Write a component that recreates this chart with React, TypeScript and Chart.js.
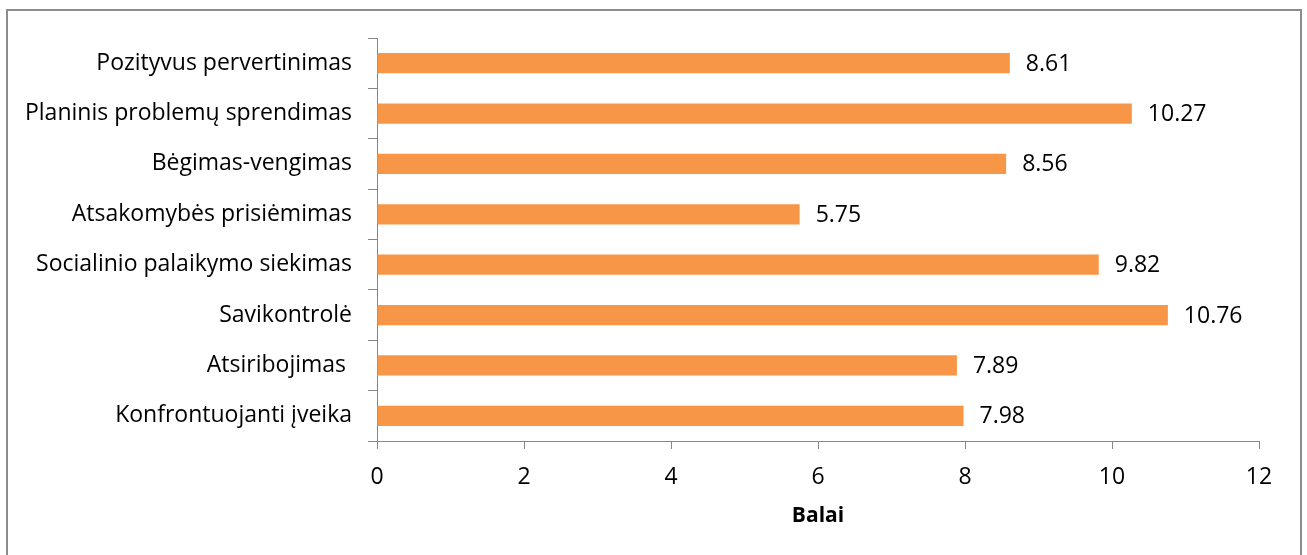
import React, { useEffect, useRef } from "react";
import { Chart, registerables, Plugin } from "chart.js";

Chart.register(...registerables);

const categories = [
  "Pozityvus pervertinimas",
  "Planinis problemų sprendimas",
  "Bėgimas-vengimas",
  "Atsakomybės prisiėmimas",
  "Socialinio palaikymo siekimas",
  "Savikontrolė",
  "Atsiribojimas ",
  "Konfrontuojanti įveika",
];
const scores = [8.61, 10.27, 8.56, 5.75, 9.82, 10.76, 7.89, 7.98];
const xTicks = [0, 2, 4, 6, 8, 10, 12];
const axisTitle = "Balai";

const FONT = "'Open Sans', sans-serif";
const FONT_SIZE = 23;
const AXIS_GREY = "#868686";
const BAR_ORANGE = "#F79646";

// Value labels just past the end of each bar
const valueLabels: Plugin<"bar"> = {
  id: "valueLabels",
  afterDatasetsDraw(chart) {
    const { ctx } = chart;
    const meta = chart.getDatasetMeta(0);
    ctx.save();
    ctx.font = `${FONT_SIZE}px ${FONT}`;
    ctx.fillStyle = "#000";
    ctx.textAlign = "left";
    ctx.textBaseline = "middle";
    meta.data.forEach((el: any, i: number) => {
      ctx.fillText(scores[i].toFixed(2), el.x + 16, el.y + 1);
    });
    ctx.restore();
  },
};

// Thin grey frame around the chart
const frame: Plugin<"bar"> = {
  id: "frame",
  beforeDraw(chart) {
    const { ctx } = chart;
    ctx.save();
    ctx.fillStyle = "#fff";
    ctx.fillRect(0, 0, chart.width, chart.height);
    ctx.strokeStyle = "#8c8c8c";
    ctx.lineWidth = 2;
    ctx.strokeRect(7, 10, 1294, 600);
    ctx.restore();
  },
};

export default function App() {
  const canvasRef = useRef<HTMLCanvasElement>(null);

  useEffect(() => {
    const canvas = canvasRef.current;
    if (!canvas) return;
    const chart = new Chart(canvas, {
      type: "bar",
      data: {
        labels: categories,
        datasets: [
          {
            data: scores,
            backgroundColor: BAR_ORANGE,
            barPercentage: 0.4,
            categoryPercentage: 1,
          },
        ],
      },
      options: {
        indexAxis: "y",
        responsive: false,
        animation: false,
        layout: { padding: { top: 38, right: 48, bottom: 0, left: 0 } },
        plugins: {
          legend: { display: false },
          tooltip: { enabled: false },
        },
        scales: {
          x: {
            min: 0,
            max: 12,
            afterFit(scale: any) {
              scale.height = 114;
            },
            afterBuildTicks(scale: any) {
              scale.ticks = xTicks.map((v) => ({ value: v }));
            },
            grid: {
              drawOnChartArea: false,
              drawTicks: true,
              tickLength: 8,
              color: AXIS_GREY,
            },
            border: { color: AXIS_GREY, width: 1 },
            ticks: {
              color: "#000",
              font: { family: FONT, size: FONT_SIZE },
              padding: 15,
            },
            title: {
              display: true,
              text: axisTitle,
              color: "#000",
              font: { family: FONT, size: 21, weight: "bold" },
              padding: { top: 0, bottom: 26 },
            },
          },
          y: {
            afterFit(scale: any) {
              scale.width = 377;
            },
            grid: {
              drawOnChartArea: false,
              drawTicks: true,
              tickLength: 9,
              color: AXIS_GREY,
              offset: true,
            },
            border: { color: AXIS_GREY, width: 1 },
            ticks: {
              color: "#000",
              font: { family: FONT, size: FONT_SIZE },
              padding: 16,
              autoSkip: false,
            },
          },
        },
      },
      plugins: [frame, valueLabels],
    });
    return () => chart.destroy();
  }, []);

  return (
    <div style={{ position: "absolute", left: 0, top: 0, width: 1307, height: 555 }}>
      <canvas ref={canvasRef} width={1307} height={555} />
    </div>
  );
}
